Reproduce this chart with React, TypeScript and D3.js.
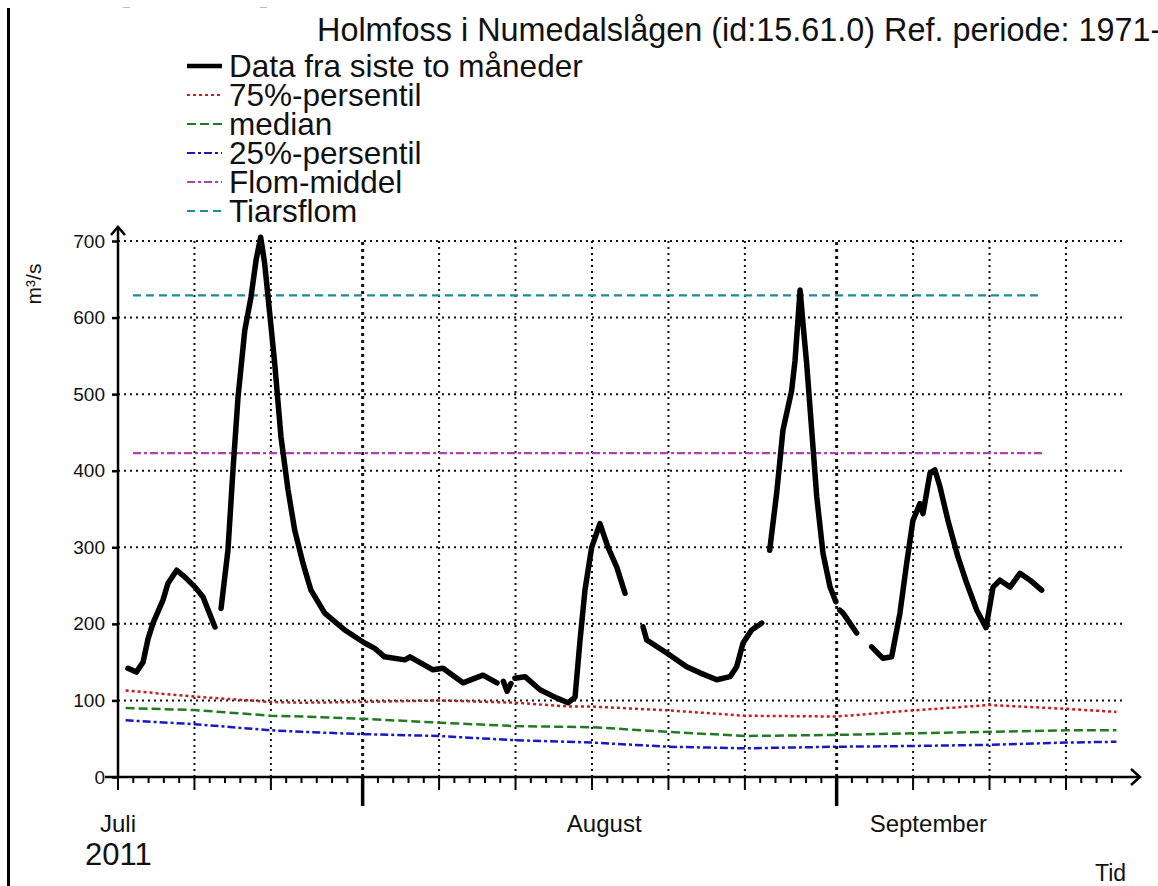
import React, { useEffect, useRef } from 'react';
import * as d3 from 'd3';

const W = 1158;
const H = 886;
const FONT = '"Liberation Sans", Arial, Helvetica, sans-serif';

// all series use [days since 16 Jul 2011 00:00, m3/s]
const START = Date.UTC(2011, 6, 16);
const END = Date.UTC(2011, 8, 21);
const DAY = 864e5;

// observed flow, one array for each unbroken piece of the record
const FLOW_SEGMENTS: [number, number][][] = [
  [[0.65, 142], [1.2, 137], [1.64, 150], [1.96, 180], [2.29, 201], [2.94, 231], [3.27, 253],
   [3.84, 270], [4.38, 261], [5.04, 248], [5.56, 235], [6.34, 196]],
  [[6.74, 220], [7.19, 296], [7.52, 401], [7.85, 496], [8.29, 583], [8.7, 627], [9.03, 675],
   [9.33, 705], [9.59, 671], [9.92, 606], [10.25, 540], [10.66, 444], [11.12, 375], [11.56, 322],
   [12.1, 279], [12.62, 244], [13.52, 214], [14.83, 192], [16.13, 175], [16.79, 168], [17.44, 157],
   [18.75, 153], [19.1, 157], [20.6, 140], [21.26, 142], [22.56, 123], [23.87, 133], [24.79, 123]],
  [[25.2, 125], [25.45, 112], [25.7, 122]],
  [[25.96, 129], [26.62, 131], [27.6, 114], [28.71, 103], [29.43, 97], [29.89, 104], [30.22, 179],
   [30.54, 244], [30.98, 300], [31.52, 331], [32.05, 300], [32.62, 274], [33.16, 240]],
  [[34.34, 196], [34.58, 179], [35.89, 162], [37.19, 144], [38.06, 136], [39.16, 127], [40.03, 131],
   [40.46, 144], [40.88, 175], [41.44, 192], [42.1, 201]],
  [[42.62, 296], [43.08, 371], [43.49, 453], [43.82, 483], [44.06, 505], [44.28, 544], [44.61, 636],
   [44.8, 592], [45.04, 540], [45.37, 453], [45.7, 366], [46.11, 292], [46.57, 248], [46.95, 229]],
  [[47.2, 218], [47.42, 214], [48.31, 188]],
  [[49.29, 170], [50.03, 155], [50.6, 157], [51.14, 214], [51.58, 279], [51.99, 335], [52.45, 357],
   [52.65, 344], [53.11, 397], [53.43, 401], [53.76, 379], [54.28, 335], [54.94, 287], [55.51, 253],
   [56.16, 218], [56.77, 195], [57.23, 248], [57.68, 257], [58.34, 248], [58.99, 266], [59.65, 257],
   [60.41, 244]],
];

const P75: [number, number][] = [
  [0.5, 113], [5, 105], [10, 98], [12, 97], [16, 98], [21, 100], [26, 97], [29.5, 92], [31, 92],
  [36, 87], [41, 80], [47, 79], [52, 87], [57, 94], [62, 89], [65.3, 85],
];
const MEDIAN: [number, number][] = [
  [0.5, 90], [5, 87.5], [10, 80], [12, 79], [16, 76], [21, 71], [26, 66.5], [31, 65], [36, 59],
  [41, 53.5], [47, 55], [52, 57], [57, 59], [62, 61], [65.3, 61],
];
const P25: [number, number][] = [
  [0.5, 74], [5, 69], [10, 61], [12, 59], [16, 56], [21, 53.5], [26, 48], [31, 45], [36, 39.5],
  [41, 37.5], [47, 39.5], [52, 40.5], [57, 42], [62, 45], [65.3, 46],
];

const FLOM_MIDDEL = 423;
const TIARSFLOM = 629;
const FLOOD_SPAN = [0.98, 60.5];

const Y_TICKS = [0, 100, 200, 300, 400, 500, 600, 700];
const MONTH_LABELS: [string, number][] = [['Juli', 0], ['August', 31.8], ['September', 53]];
const LEGEND = [
  { label: 'Data fra siste to måneder', color: '#000', width: 4.5, dash: null },
  { label: '75%-persentil', color: '#cc1b1b', width: 2, dash: '3,3' },
  { label: 'median', color: '#227a22', width: 2, dash: '9,4' },
  { label: '25%-persentil', color: '#1818c8', width: 2, dash: '8,3,3,3' },
  { label: 'Flom-middel', color: '#b040b0', width: 2, dash: '8,3,3,3' },
  { label: 'Tiarsflom', color: '#1b8c9c', width: 2, dash: '8,5' },
];

const toDate = (d: number) => new Date(START + d * DAY);

const App = () => {
  const svgRef = useRef<SVGSVGElement>(null);

  useEffect(() => {
    const svg = d3.select(svgRef.current);
    svg.selectAll('*').remove();

    const x = d3.scaleUtc().domain([new Date(START), new Date(END)]).range([118, 118 + 67 * 15.29]);
    const y = d3.scaleLinear().domain([0, 700]).range([777, 241]);
    const xd = (d: number) => x(toDate(d));

    const gridRight = xd(65.9);

    // frame line on the left and the two stray marks at the top
    svg.append('line').attr('x1', 8.5).attr('x2', 8.5).attr('y1', 8).attr('y2', H)
      .attr('stroke', '#000').attr('stroke-width', 3);
    [[123, 130], [260, 267]].forEach(([a, b]) => {
      svg.append('line').attr('x1', a).attr('x2', b).attr('y1', 7.5).attr('y2', 7.5)
        .attr('stroke', '#bbb').attr('stroke-width', 1);
    });

    // title
    svg.append('text').attr('x', 317).attr('y', 41)
      .attr('font-family', FONT).attr('font-size', 32.4).attr('fill', '#111')
      .text('Holmfoss i Numedalslågen (id:15.61.0) Ref. periode: 1971-');

    // legend
    const leg = svg.append('g');
    LEGEND.forEach((l, i) => {
      const by = 77 + i * 29;
      leg.append('line').attr('x1', 187).attr('x2', 222).attr('y1', by - 11).attr('y2', by - 11)
        .attr('stroke', l.color).attr('stroke-width', l.width)
        .attr('stroke-dasharray', l.dash);
      leg.append('text').attr('x', 229).attr('y', by)
        .attr('font-family', FONT).attr('font-size', 31.5).attr('fill', '#111').text(l.label);
    });

    // grid
    const grid = svg.append('g').attr('stroke', '#111').attr('fill', 'none');
    Y_TICKS.filter((v) => v > 0).forEach((v) => {
      grid.append('line').attr('x1', 118).attr('x2', gridRight).attr('y1', y(v)).attr('y2', y(v))
        .attr('stroke-width', 2).attr('stroke-dasharray', '2,4');
    });
    const days = d3.utcDay.range(new Date(START), new Date(Date.UTC(2011, 8, 20)));
    days.forEach((dt, i) => {
      const dom = dt.getUTCDate();
      if (i === 0 || ![1, 6, 11, 16, 21, 26].includes(dom)) return;
      grid.append('line').attr('x1', x(dt)).attr('x2', x(dt)).attr('y1', y(0)).attr('y2', y(700))
        .attr('stroke-width', dom === 1 ? 3 : 2).attr('stroke-dasharray', dom === 1 ? '3,4' : '2,4');
    });

    // reference levels
    const line = d3.line<[number, number]>().x((d) => xd(d[0])).y((d) => y(d[1]));
    const refs: [[number, number][], number][] = [[P75, 1], [MEDIAN, 2], [P25, 3]];
    refs.forEach(([data, k]) => {
      const l = LEGEND[k];
      svg.append('path').attr('d', line(data)).attr('fill', 'none')
        .attr('stroke', l.color).attr('stroke-width', 2.5).attr('stroke-dasharray', l.dash);
    });
    const floods: [number, number][] = [[FLOM_MIDDEL, 4], [TIARSFLOM, 5]];
    floods.forEach(([v, k]) => {
      const l = LEGEND[k];
      svg.append('path').attr('d', line([[FLOOD_SPAN[0], v], [FLOOD_SPAN[1], v]]))
        .attr('fill', 'none').attr('stroke', l.color).attr('stroke-width', 2.2)
        .attr('stroke-dasharray', l.dash);
    });

    // observed flow
    FLOW_SEGMENTS.forEach((seg) => {
      svg.append('path').attr('d', line(seg)).attr('fill', 'none')
        .attr('stroke', '#000').attr('stroke-width', 5.5)
        .attr('stroke-linejoin', 'round').attr('stroke-linecap', 'round');
    });

    // y axis
    const yAxis = svg.append('g').attr('transform', 'translate(118,0)')
      .call(d3.axisLeft(y).tickValues(Y_TICKS).tickSize(6).tickSizeOuter(0).tickPadding(7));
    yAxis.select('.domain').remove();
    yAxis.selectAll('line').attr('stroke', '#000').attr('stroke-width', 2.5);
    yAxis.selectAll('text').attr('font-family', FONT).attr('font-size', 19).attr('fill', '#111');
    svg.append('line').attr('x1', 118).attr('x2', 118).attr('y1', 778).attr('y2', 227)
      .attr('stroke', '#000').attr('stroke-width', 2.5);
    svg.append('path').attr('d', 'M111,235L118,227L125,235').attr('fill', 'none')
      .attr('stroke', '#000').attr('stroke-width', 2.5);
    svg.append('text').attr('transform', 'translate(41,284) rotate(-90)')
      .attr('text-anchor', 'middle').attr('font-family', FONT).attr('font-size', 21)
      .attr('fill', '#111').text('m³/s');

    // x axis
    svg.append('line').attr('x1', 105).attr('x2', 1140).attr('y1', y(0)).attr('y2', y(0))
      .attr('stroke', '#000').attr('stroke-width', 2.5);
    svg.append('path').attr('d', 'M1131,769L1140,777L1131,785').attr('fill', 'none')
      .attr('stroke', '#000').attr('stroke-width', 2.5);
    days.forEach((dt) => {
      const dom = dt.getUTCDate();
      const len = dom === 1 ? 29 : [6, 11, 16, 21, 26].includes(dom) ? 13 : 6;
      svg.append('line').attr('x1', x(dt)).attr('x2', x(dt)).attr('y1', y(0)).attr('y2', y(0) + len)
        .attr('stroke', '#000').attr('stroke-width', dom === 1 ? 3.5 : 2);
    });
    MONTH_LABELS.forEach(([m, d]) => {
      svg.append('text').attr('x', xd(d)).attr('y', 832).attr('text-anchor', 'middle')
        .attr('font-family', FONT).attr('font-size', 24).attr('fill', '#111').text(m);
    });
    svg.append('text').attr('x', 85).attr('y', 865)
      .attr('font-family', FONT).attr('font-size', 31).attr('fill', '#111').text('2011');
    svg.append('text').attr('x', 1095).attr('y', 881)
      .attr('font-family', FONT).attr('font-size', 23).attr('fill', '#111').text('Tid');
  }, []);

  return (
    <svg ref={svgRef} width={W} height={H}
      style={{ position: 'absolute', left: 0, top: 0, background: '#fff', display: 'block' }} />
  );
};

export default App;
